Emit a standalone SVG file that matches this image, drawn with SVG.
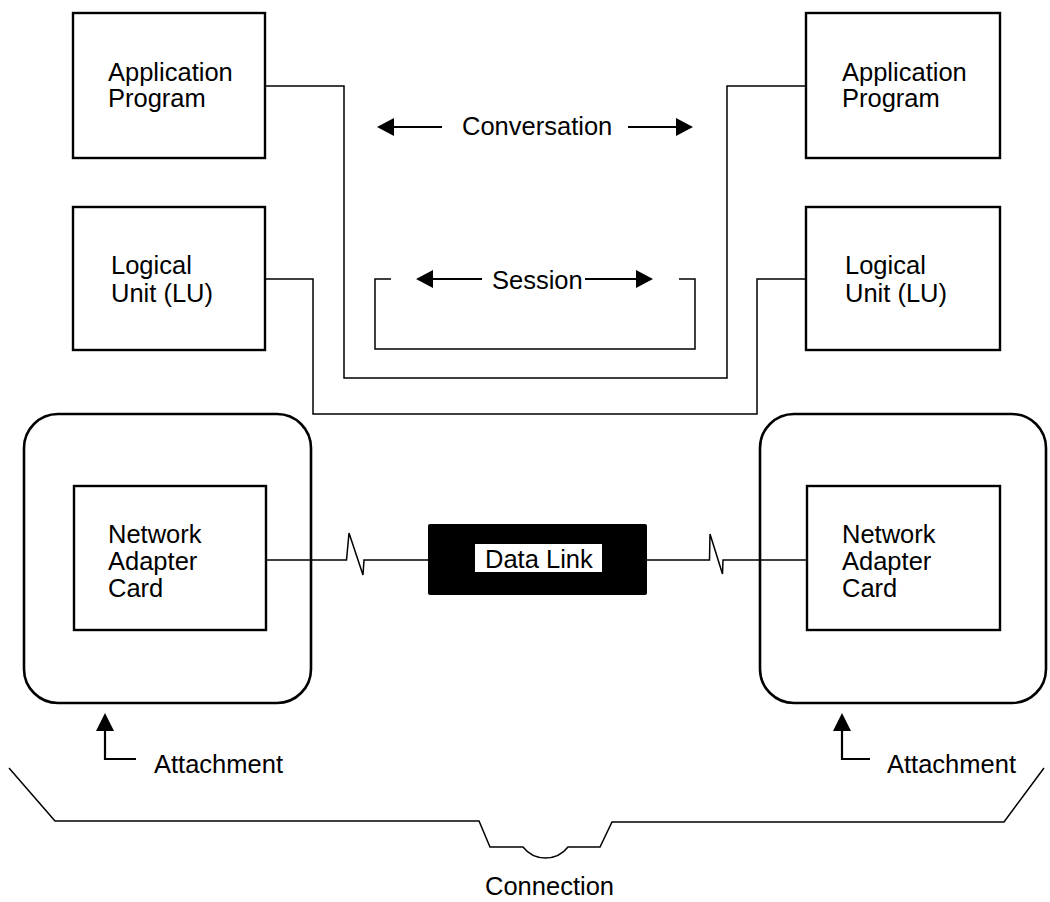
<svg xmlns="http://www.w3.org/2000/svg" width="1050" height="902" viewBox="0 0 1050 902">
<style>
text{font-family:"Liberation Sans",Arial,Helvetica,sans-serif;font-size:25.5px;fill:#000}
.box{fill:#fff;stroke:#000;stroke-width:2.4}
.rbox{fill:none;stroke:#000;stroke-width:2.6}
.ln{fill:none;stroke:#000;stroke-width:1.5}
.sh{fill:none;stroke:#000;stroke-width:2.2}
.ah{fill:#000}
</style>
<rect width="1050" height="902" fill="#fff"/>
<g id="connectors">
<path class="ln" d="M265 86 H344 V378 H727 V86 H806"/>
<path class="ln" d="M265 279 H313 V414 H757 V279 H806"/>
<path class="ln" d="M391 279 H375 V349 H695 V279 H679"/>
<path class="ln" d="M266 560 H346.5 L349 533 L363 575 L364 560 H428"/>
<path class="ln" d="M647 560 H709.5 L710 534 L722.5 574 L723 560 H807"/>
</g>
<g id="conversation">
<line class="sh" x1="390" y1="127" x2="442" y2="127"/>
<polygon class="ah" points="377,127 394,118 394,136"/>
<text x="462" y="135">Conversation</text>
<line class="sh" x1="628" y1="127" x2="680" y2="127"/>
<polygon class="ah" points="693,127 676,118 676,136"/>
</g>
<g id="session">
<line class="sh" x1="428" y1="279" x2="482" y2="279"/>
<polygon class="ah" points="416,279 433,270 433,288"/>
<text x="492" y="289">Session</text>
<line class="sh" x1="585" y1="279" x2="641" y2="279"/>
<polygon class="ah" points="653,279 636,270 636,288"/>
</g>
<g id="app-left">
<rect class="box" x="73" y="13" width="192" height="145"/>
<text x="108" y="81">Application</text>
<text x="108" y="107">Program</text>
</g>
<g id="app-right">
<rect class="box" x="806" y="13" width="194" height="145"/>
<text x="842" y="81">Application</text>
<text x="842" y="107">Program</text>
</g>
<g id="lu-left">
<rect class="box" x="73" y="207" width="192" height="143"/>
<text x="111" y="274">Logical</text>
<text x="111" y="302">Unit (LU)</text>
</g>
<g id="lu-right">
<rect class="box" x="806" y="207" width="194" height="143"/>
<text x="845" y="274">Logical</text>
<text x="845" y="302">Unit (LU)</text>
</g>
<g id="attach-left">
<rect class="rbox" x="24" y="414" width="287" height="289" rx="34" ry="34"/>
</g>
<g id="attach-right">
<rect class="rbox" x="760" y="414" width="286" height="289" rx="34" ry="34"/>
</g>
<g id="nac-left">
<rect class="box" x="74" y="486" width="192" height="144"/>
<text x="108" y="543">Network</text>
<text x="108" y="570">Adapter</text>
<text x="108" y="597">Card</text>
</g>
<g id="nac-right">
<rect class="box" x="807" y="486" width="193" height="144"/>
<text x="842" y="543">Network</text>
<text x="842" y="570">Adapter</text>
<text x="842" y="597">Card</text>
</g>
<g id="datalink">
<rect x="428" y="524" width="219" height="71" fill="#000" rx="2"/>
<rect x="475" y="544" width="127" height="28" fill="#fff"/>
<text x="485" y="568">Data Link</text>
</g>
<g id="attachment-left">
<path class="sh" d="M105 726 V759 H136"/>
<polygon class="ah" points="105,713 96,731 114,731"/>
<text x="154" y="773">Attachment</text>
</g>
<g id="attachment-right">
<path class="sh" d="M842 726 V759 H870"/>
<polygon class="ah" points="842,713 833,731 851,731"/>
<text x="887" y="773">Attachment</text>
</g>
<g id="connection">
<path class="ln" d="M9 768 L55 821 H479 L490 847 H523 A28.5 28.5 0 0 0 568 847 H600 L612 822 H1004 L1044 768" stroke-width="1.6"/>
<text x="485" y="895">Connection</text>
</g>
</svg>
